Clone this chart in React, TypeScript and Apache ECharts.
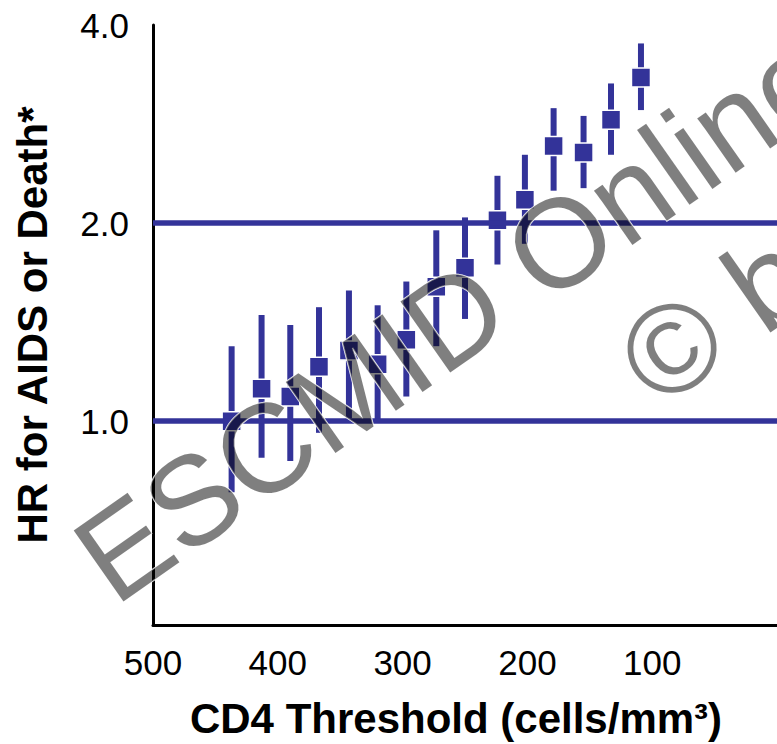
import React, { useEffect, useRef } from 'react';
import * as echarts from 'echarts';

// CD4 threshold (cells/mm3) of each estimate
const cd4Thresholds = [437, 413, 390, 367, 343, 320, 297, 273, 250, 224, 202, 179, 155, 133, 109];
// Hazard ratio for AIDS or death, with confidence interval bounds
const hazardRatio = [1.0, 1.12, 1.09, 1.21, 1.28, 1.22, 1.33, 1.6, 1.71, 2.02, 2.17, 2.62, 2.56, 2.87, 3.33];
const ciLower = [0.78, 0.88, 0.87, 0.96, 1.01, 1.0, 1.09, 1.3, 1.43, 1.73, 1.86, 2.24, 2.26, 2.54, 2.97];
const ciUpper = [1.3, 1.45, 1.4, 1.49, 1.58, 1.5, 1.63, 1.95, 2.04, 2.36, 2.54, 2.99, 2.91, 3.26, 3.75];

const xTickLabels = [500, 400, 300, 200, 100];
const yTickLabels = [1, 2, 4];
const referenceLines = [1, 2];
const watermarkLines = ['ESCMID Online Lecture Library', '\u00A9 by author'];

const BLUE = '#333399';
const FONT = '"Liberation Sans", Arial, sans-serif';

export default function App() {
  const ref = useRef<HTMLDivElement>(null);

  useEffect(() => {
    document.body.style.margin = '0';
    if (!ref.current) return;
    const chart = echarts.init(ref.current, null, { renderer: 'svg' });

    const points = cd4Thresholds.map((x, i) => [x, hazardRatio[i]]);
    const bars = cd4Thresholds.map((x, i) => [x, ciLower[i], ciUpper[i]]);
    const rot = (35 * Math.PI) / 180;

    const option: any = {
      animation: false,
      backgroundColor: '#fff',
      grid: { left: 153, top: 25, width: 627, height: 604, containLabel: false },
      xAxis: {
        type: 'value',
        min: 0,
        max: 500,
        inverse: true,
        interval: 100,
        name: 'CD4 Threshold (cells/mm\u00B3)',
        nameLocation: 'middle',
        nameGap: 72,
        nameTextStyle: {
          fontFamily: FONT,
          fontWeight: 'bold',
          fontSize: 42,
          color: '#000',
          padding: [0, 18, 0, 0],
        },
        axisLine: { show: true, onZero: false, lineStyle: { color: '#000', width: 3 } },
        axisTick: { show: false },
        splitLine: { show: false },
        axisLabel: {
          customValues: xTickLabels,
          formatter: (v: number) => String(v),
          fontFamily: FONT,
          fontSize: 35,
          color: '#000',
          margin: 20,
        },
      },
      yAxis: {
        type: 'log',
        logBase: 2,
        min: 0.49,
        max: 4,
        name: 'HR for AIDS or Death*',
        nameLocation: 'middle',
        nameGap: 100,
        nameTextStyle: {
          fontFamily: FONT,
          fontWeight: 'bold',
          fontSize: 42,
          color: '#000',
        },
        axisLine: { show: true, onZero: false, lineStyle: { color: '#000', width: 3 } },
        axisTick: { show: false },
        splitLine: { show: false },
        axisLabel: {
          formatter: (v: number) => {
            const t = yTickLabels.find((k) => Math.abs(k - v) < 0.01);
            return t ? t.toFixed(1) : '';
          },
          fontFamily: FONT,
          fontSize: 35,
          color: '#000',
          margin: 24,
        },
      },
      series: [
        {
          type: 'line',
          data: [],
          z: 1,
          markLine: {
            silent: true,
            symbol: 'none',
            label: { show: false },
            lineStyle: { color: BLUE, width: 5.5, type: 'solid' },
            data: referenceLines.map((v) => ({ yAxis: v })),
          },
        },
        {
          type: 'custom',
          z: 2,
          data: bars,
          encode: { x: 0, y: [1, 2] },
          renderItem: (params: any, api: any) => {
            const x = api.value(0);
            const lo = api.coord([x, api.value(1)]);
            const hi = api.coord([x, api.value(2)]);
            return {
              type: 'rect',
              shape: { x: lo[0] - 3, y: hi[1], width: 6, height: lo[1] - hi[1] },
              style: { fill: BLUE },
            };
          },
        },
        {
          type: 'scatter',
          z: 3,
          data: points,
          symbol: 'rect',
          symbolSize: 19,
          itemStyle: { color: BLUE, opacity: 1, borderColor: '#fff', borderWidth: 1.5 },
        },
      ],
      graphic: [
        {
          type: 'text',
          x: 90,
          y: 572,
          rotation: rot,
          z: 100,
          silent: true,
          style: {
            text: watermarkLines[0],
            font: `126px ${FONT}`,
            fill: 'rgba(0,0,0,0.5)',
            stroke: 'rgba(255,255,255,0.9)',
            lineWidth: 1.5,
            textAlign: 'left',
            textVerticalAlign: 'middle',
          },
        },
        {
          type: 'text',
          x: 634,
          y: 375,
          rotation: rot,
          z: 100,
          silent: true,
          style: {
            text: watermarkLines[1],
            font: `126px ${FONT}`,
            fill: 'rgba(0,0,0,0.5)',
            stroke: 'rgba(255,255,255,0.9)',
            lineWidth: 1.5,
            textAlign: 'left',
            textVerticalAlign: 'middle',
          },
        },
      ],
    };

    chart.setOption(option);
    return () => chart.dispose();
  }, []);

  return <div ref={ref} style={{ width: 777, height: 744 }} />;
}
